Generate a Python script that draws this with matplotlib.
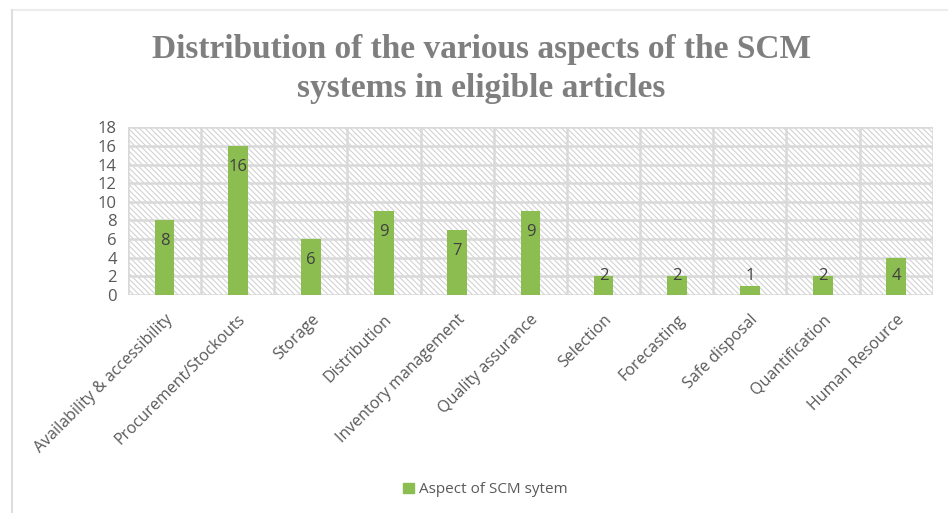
import matplotlib.pyplot as plt
from matplotlib.patches import Rectangle
from matplotlib.lines import Line2D

categories = ['Availability & accessibility', 'Procurement/Stockouts', 'Storage',
              'Distribution', 'Inventory management', 'Quality assurance', 'Selection',
              'Forecasting', 'Safe disposal', 'Quantification', 'Human Resource']
counts = [8, 16, 6, 9, 7, 9, 2, 2, 1, 2, 4]
y_ticks = [0, 2, 4, 6, 8, 10, 12, 14, 16, 18]

title = 'Distribution of the various aspects of the SCM\nsystems in eligible articles'
series_name = 'Aspect of SCM sytem'

bar_color = '#8cbd50'
grid_color = '#d9d9d9'
text_color = '#595959'

plt.rcParams['font.family'] = ['Open Sans', 'DejaVu Sans']
plt.rcParams['hatch.linewidth'] = 0.8

fig = plt.figure(figsize=(9.48, 5.13), dpi=100)
ax = fig.add_axes([0.135, 0.425, 0.849, 0.327])

# hatched background like the Excel plot area
ax.add_patch(Rectangle((0, 0), 1, 1, transform=ax.transAxes, facecolor='white',
                       edgecolor='#d2d2d2', linewidth=0, hatch='\\\\\\\\\\\\', zorder=0))

x = list(range(len(categories)))
ax.bar(x, counts, width=0.27, color=bar_color, zorder=3)

for xi, v in zip(x, counts):
    ax.text(xi, max(v - 2.25, 2.0), str(v), ha='center', va='center',
            fontsize=12, color='#404040', zorder=4)

ax.set_xlim(-0.5, len(categories) - 0.5)
ax.set_ylim(0, 18)
ax.set_yticks(y_ticks)
ax.set_yticklabels([str(t) for t in y_ticks], fontsize=12, color=text_color)
ax.set_xticks(x)
ax.set_xticklabels(categories, rotation=45, ha='right', rotation_mode='anchor',
                   fontsize=11.5, color=text_color)
ax.tick_params(length=0, pad=8)
ax.tick_params(axis='x', pad=12)

# horizontal gridlines and vertical lines between categories
for t in y_ticks:
    ax.axhline(t, color=grid_color, linewidth=1.8, zorder=1)
for b in range(len(categories) + 1):
    ax.axvline(b - 0.5, color=grid_color, linewidth=1.8, zorder=1)
for s in ax.spines.values():
    s.set_visible(False)

fig.text(0.508, 0.933, title, ha='center', va='top', fontsize=24, fontweight='bold',
         color='#7f7f7f', family='Liberation Serif', linespacing=1.3)

leg = fig.legend([Rectangle((0, 0), 1, 1, color=bar_color)], [series_name],
                 loc='center', bbox_to_anchor=(0.512, 0.045), frameon=False,
                 fontsize=11, handlelength=0.7, handleheight=0.7, handletextpad=0.3)
for t in leg.get_texts():
    t.set_color(text_color)

# frame lines at top and left of the chart box
fig.add_artist(Line2D([12 / 948, 1], [1 - 10 / 513] * 2, color='#ececec', linewidth=1.5))
fig.add_artist(Line2D([12 / 948] * 2, [0, 1 - 10 / 513], color='#dedede', linewidth=1.5))

plt.savefig('out.png', dpi=100)
plt.close()
